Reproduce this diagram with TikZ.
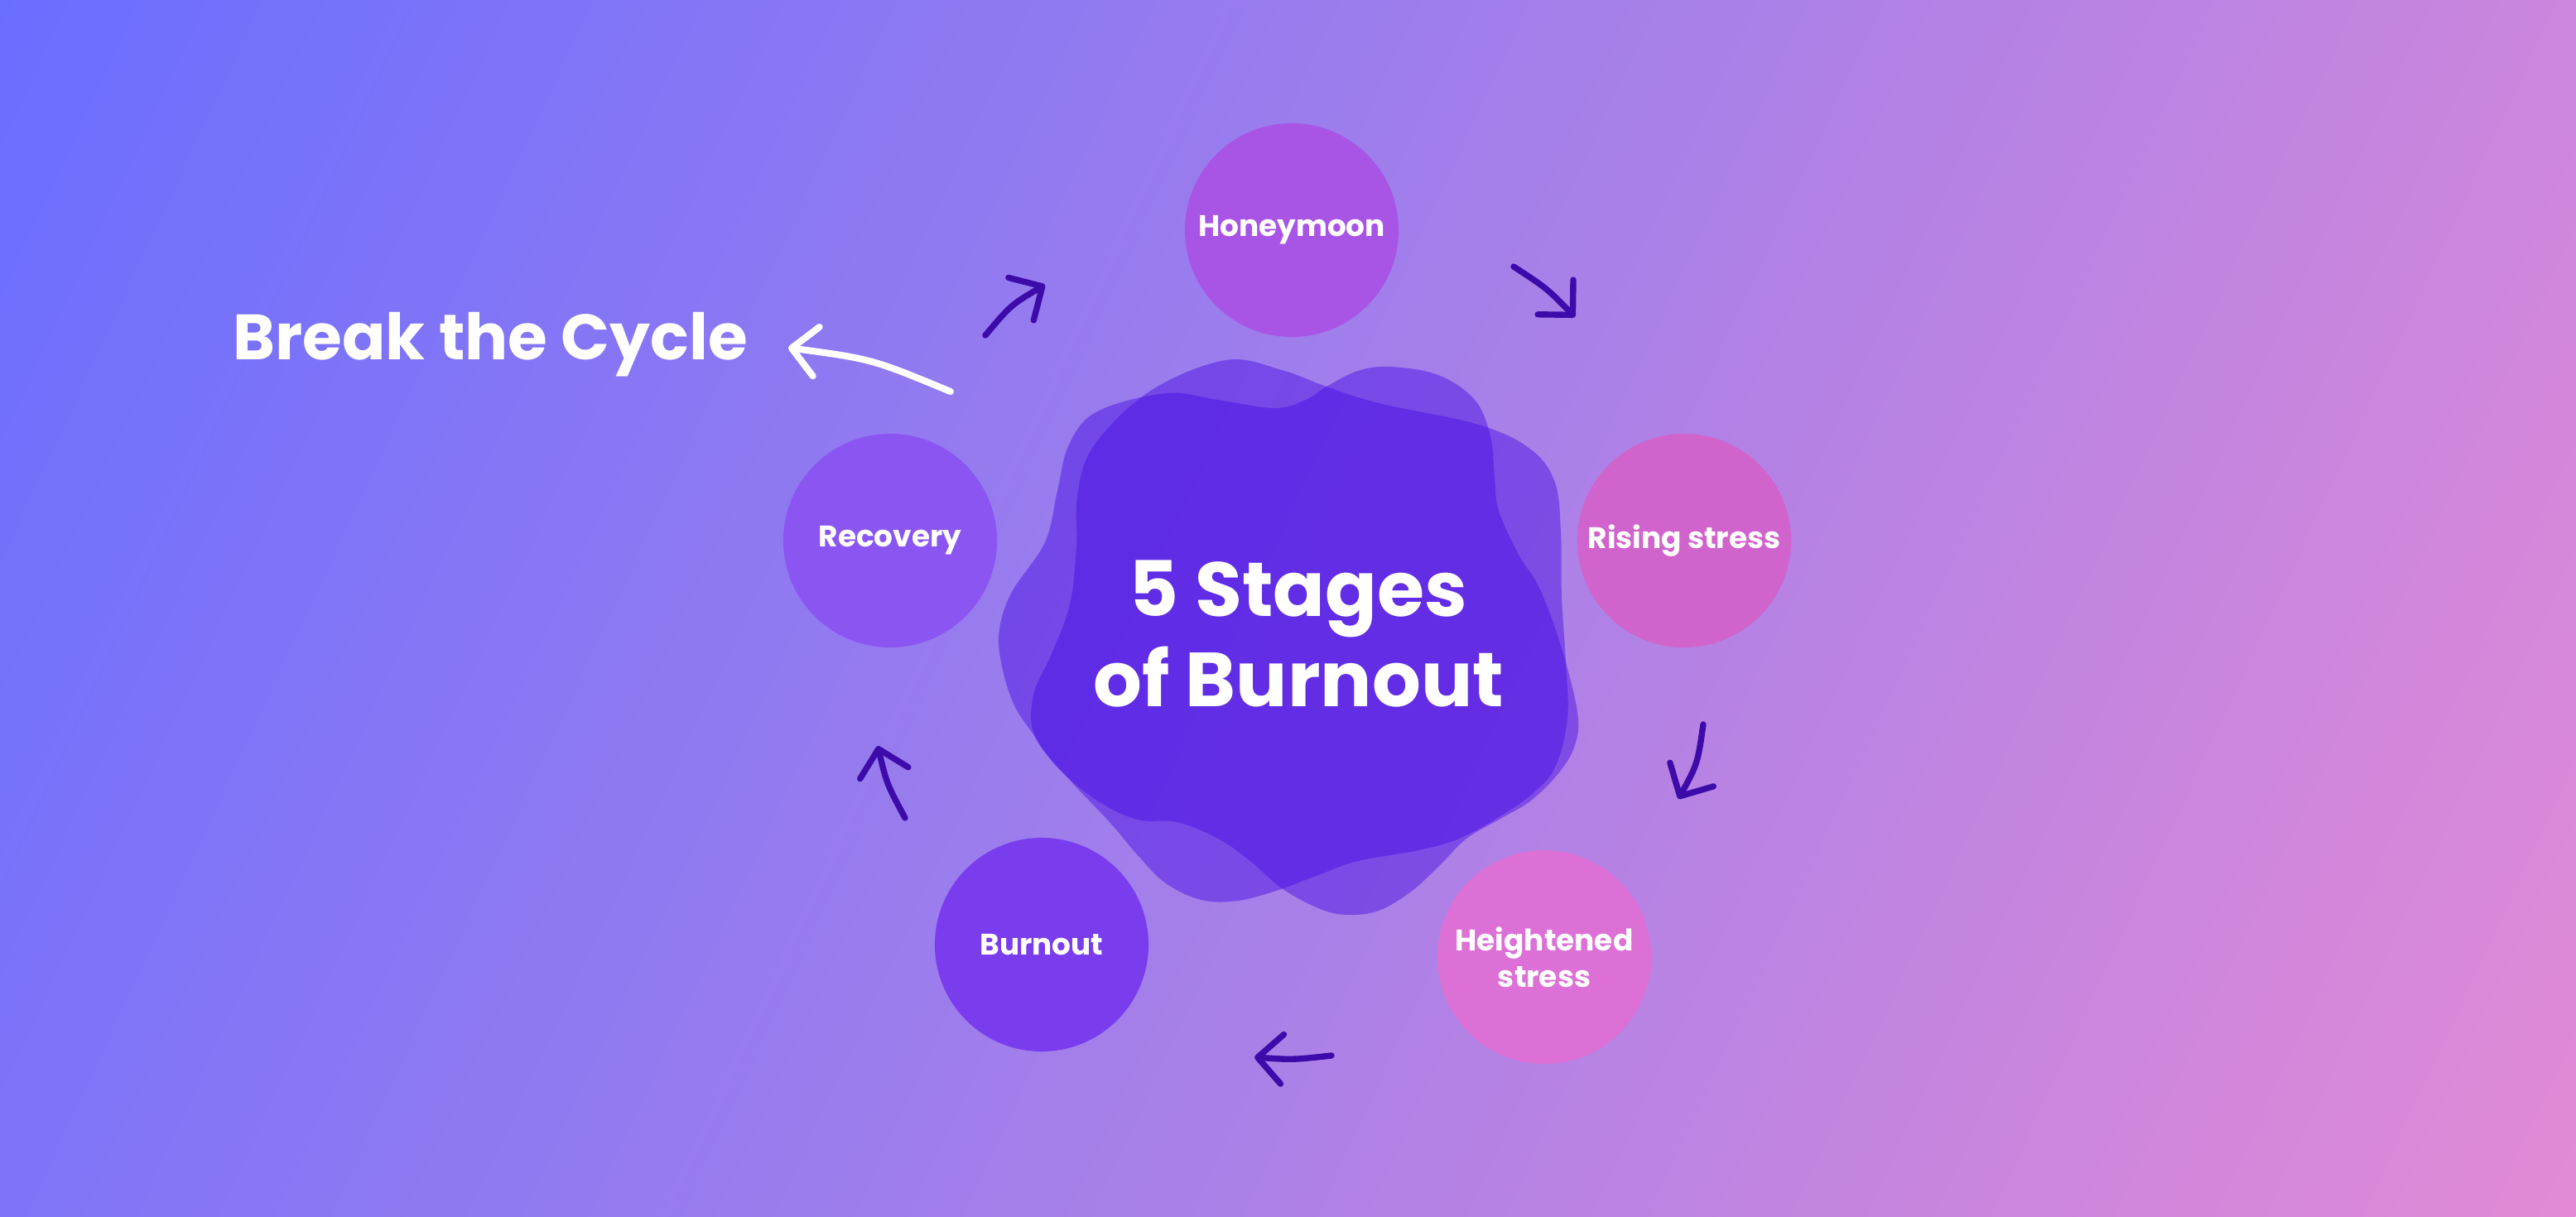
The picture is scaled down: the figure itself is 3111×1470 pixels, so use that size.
\documentclass[tikz,border=0pt]{standalone}
\usepackage{fontspec}
\setmainfont{Poppins}
\usepackage{tikz}
\usetikzlibrary{positioning,arrows.meta,calc}
\definecolor{ink}      {HTML}{3D0BAA}
\definecolor{bgleft}   {HTML}{6A6EFF}
\definecolor{bgmid}    {HTML}{A37FEA}
\definecolor{bgright}  {HTML}{E28AD6}
\definecolor{blobcol}  {HTML}{460AE4}
\definecolor{honeycol} {HTML}{A855E6}
\definecolor{risecol}  {HTML}{D163CC}
\definecolor{heightcol}{HTML}{DC70D6}
\definecolor{burncol}  {HTML}{7A3DEE}
\definecolor{recovcol} {HTML}{8B55F2}
\tikzset{
  % --- nodes
  stage/.style   = {circle, minimum size=2.58cm, inner sep=0pt, align=center,
                    text=white, font=\fontsize{10.2}{12.4}\selectfont\bfseries},
  title/.style   = {text=white, align=center, inner sep=0pt,
                    font=\fontsize{26.3}{31}\selectfont\bfseries},
  callout/.style = {text=white, inner sep=0pt, font=\fontsize{22}{26}\selectfont\bfseries},
  blob/.style    = {fill=blobcol, fill opacity=0.45},
  % --- edges
  cyc/.style     = {-{Straight Barb[length=8.5pt,width=17pt,round]}, line width=2.1pt,
                    draw=ink, line cap=round},
  brk/.style     = {cyc, draw=white, line width=2.3pt},
}
\begin{document}
\begin{tikzpicture}[x=0.01cm,y=-0.01cm]
  \useasboundingbox (0,0) rectangle (3111,1470);
  % background wash
  \begin{scope}
    \clip (0,0) rectangle (3111,1470);
    \shade[transform canvas={rotate around={-25:(1555.5,735)}},
           left color=bgleft, right color=bgright, middle color=bgmid]
      (-164.5,-985) rectangle (3275.5,2455);
  \end{scope}
  % the two blobs
  \fill[blob] plot[smooth cycle, tension=0.6] coordinates {
    (1480,435) (1548,447) (1602,467) (1665,487) (1786,513) (1849,543) (1878,583)
    (1885,643) (1886,720) (1891,800) (1893,867) (1878,927) (1849,960) (1810,987)
    (1762,1013) (1713,1027) (1640,1040) (1592,1057) (1544,1075) (1495,1088)
    (1451,1087) (1408,1067) (1374,1033) (1340,993) (1290,940) (1250,890)
    (1248,840) (1270,790) (1292,730) (1300,660) (1301,600) (1320,540) (1388,473)};
  \fill[blob] plot[smooth cycle, tension=0.6] coordinates {
    (1408,475) (1471,483) (1539,493) (1577,483) (1602,467) (1640,448) (1679,443)
    (1737,453) (1781,483) (1800,527) (1805,577) (1810,617) (1834,670) (1859,710)
    (1885,780) (1905,860) (1902,900) (1883,933) (1849,967) (1810,990) (1771,1013)
    (1737,1047) (1704,1077) (1665,1100) (1626,1105) (1592,1097) (1548,1073)
    (1510,1040) (1471,1013) (1422,993) (1374,990) (1325,967) (1277,927) (1248,887)
    (1224,850) (1209,800) (1207,760) (1222,715) (1262,655) (1277,593) (1291,537)
    (1325,497)};
  \node[title] (stages) at (1568,766) {5 Stages\\of Burnout};
  % five stages
  \foreach \nm/\x/\y/\col/\txt in {
    honey/1560/278/honeycol/Honeymoon,
    rise/2034/653/risecol/Rising stress,
    height/1865/1156/heightcol/{Heightened\\stress},
    burn/1258/1141/burncol/Burnout,
    recov/1075/653/recovcol/Recovery}
  {
    \node[stage, fill=\col] (\nm) at (\x,\y) {\txt};
  }
  % cycle arrows
  \foreach \n/\sx/\sy/\ex/\ey/\f in {
    rh/1190/405/1262/344/0.17,
    hr/1828/322/1902/383/0.11,
    rs/2057/875/2027/965/0.18,
    hb/1608/1275/1515/1277/0.09,
    br/1093/988/1060/901/0.13}
  {
    \coordinate (\n-s) at (\sx,\sy);
    \coordinate (\n-e) at (\ex,\ey);
    \draw[cyc] (\n-s) .. controls ($(\n-s)!0.5!(\n-e)!\f!90:(\n-e)$) .. (\n-e);
  }
  % way out
  \node[callout, anchor=base west] (brk) at (281,435) {Break the Cycle};
  \coordinate (brk-s) at (1148,473);
  \coordinate (brk-e) at (952,420);
  \draw[brk] (brk-s) .. controls ($(brk-s)!0.5!(brk-e)!-0.13!90:(brk-e)$) .. (brk-e);
\end{tikzpicture}
\end{document}
